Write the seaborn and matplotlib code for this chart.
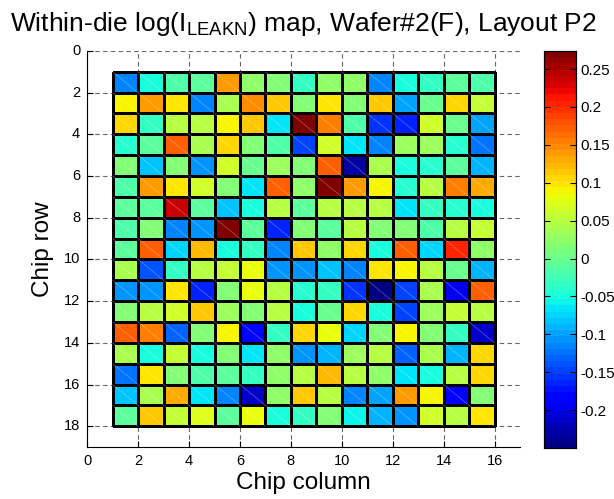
import numpy as np
import pandas as pd
import matplotlib
matplotlib.use("Agg")
import matplotlib.pyplot as plt
from matplotlib.collections import LineCollection
import seaborn as sns

# log(I_LEAKN) deviation per chip, rows 1..17 (top to bottom), columns 1..15
row_01 = [-0.112, -0.053, -0.014, -0.007, 0.137, 0.025, 0.012, -0.034, 0.025, 0.025, -0.112, -0.053, -0.034, -0.007, -0.014]
row_02 = [0.087, 0.137, 0.097, -0.119, 0.038, 0.150, 0.115, 0.018, 0.097, 0.018, 0.117, -0.100, -0.001, 0.104, 0.058]
row_03 = [0.110, -0.034, 0.045, 0.045, 0.087, 0.117, -0.067, 0.274, 0.156, -0.014, -0.158, -0.165, 0.064, -0.001, -0.100]
row_04 = [-0.040, -0.007, 0.169, 0.038, 0.104, 0.018, -0.020, -0.145, 0.068, -0.063, -0.112, 0.031, 0.031, -0.040, -0.125]
row_05 = [0.018, -0.080, 0.018, -0.106, 0.068, -0.001, 0.031, 0.018, 0.175, -0.230, 0.038, -0.053, -0.040, -0.007, -0.093]
row_06 = [-0.014, 0.137, 0.097, 0.068, 0.012, -0.065, 0.175, 0.025, 0.270, 0.137, 0.087, -0.040, 0.051, 0.156, 0.133]
row_07 = [-0.007, -0.007, 0.235, -0.007, -0.080, -0.053, 0.051, -0.007, 0.051, 0.051, 0.051, -0.067, -0.034, -0.040, -0.047]
row_08 = [-0.014, 0.012, -0.112, -0.106, 0.274, -0.007, -0.160, 0.018, -0.007, 0.051, 0.018, 0.018, -0.020, 0.051, 0.058]
row_09 = [-0.007, 0.175, -0.070, 0.124, -0.053, -0.034, -0.112, 0.117, 0.025, 0.104, -0.053, 0.175, -0.073, 0.208, 0.025]
row_10 = [0.038, -0.138, -0.034, 0.051, 0.060, 0.080, -0.103, -0.103, -0.083, -0.112, 0.097, 0.087, 0.051, -0.001, -0.093]
row_11 = [-0.106, -0.103, 0.097, -0.165, 0.012, 0.080, 0.048, -0.040, -0.034, -0.158, -0.250, -0.145, 0.038, -0.200, 0.175]
row_12 = [0.018, 0.051, 0.066, 0.117, 0.031, 0.018, 0.045, -0.053, -0.001, 0.104, -0.053, -0.145, 0.031, 0.058, 0.051]
row_13 = [0.169, 0.153, -0.132, 0.012, 0.091, -0.180, -0.034, 0.104, 0.080, -0.077, 0.018, 0.087, 0.018, -0.034, -0.215]
row_14 = [0.038, -0.047, 0.058, -0.047, 0.012, -0.063, 0.025, -0.106, -0.090, 0.031, 0.051, -0.132, 0.038, -0.087, 0.104]
row_15 = [-0.125, 0.100, 0.018, -0.014, -0.007, -0.034, 0.025, 0.051, 0.124, 0.045, 0.025, -0.067, -0.053, 0.045, 0.110]
row_16 = [-0.080, 0.038, 0.127, -0.063, -0.112, -0.210, 0.025, 0.115, 0.051, -0.112, -0.100, 0.137, 0.087, -0.190, 0.018]
row_17 = [-0.007, 0.115, 0.058, 0.077, -0.007, 0.080, -0.053, -0.034, 0.012, -0.057, -0.087, -0.106, 0.064, 0.045, 0.097]

chip_rows = list(range(1, 18))
chip_cols = list(range(1, 16))
x_ticks = list(range(0, 17, 2))
y_ticks = list(range(0, 19, 2))
cbar_ticks = [-0.2, -0.15, -0.1, -0.05, 0, 0.05, 0.1, 0.15, 0.2, 0.25]
cbar_labels = ["-0.2", "-0.15", "-0.1", "-0.05", "0", "0.05", "0.1", "0.15", "0.2", "0.25"]

values = np.array([row_01, row_02, row_03, row_04, row_05, row_06, row_07, row_08, row_09,
                   row_10, row_11, row_12, row_13, row_14, row_15, row_16, row_17])
frame = pd.DataFrame(values, index=chip_rows, columns=chip_cols)

plt.rcParams['font.family'] = ['Liberation Sans', 'DejaVu Sans']
plt.rcParams['mathtext.fontset'] = 'custom'
plt.rcParams['mathtext.rm'] = 'Liberation Sans'
plt.rcParams['mathtext.it'] = 'Liberation Sans'

fig = plt.figure(figsize=(6.14, 4.99), dpi=100)
ax = fig.add_axes([0.142, 0.104, 0.705, 0.794])
cax = fig.add_axes([0.886, 0.102, 0.052, 0.796])

cmap = plt.get_cmap('jet', 64)
sns.heatmap(frame, ax=ax, cbar_ax=cax, cmap=cmap,
            vmin=values.min(), vmax=values.max(),
            linewidths=0.75, linecolor='black', square=False)

# faint diagonal seam inside every cell (top-left to bottom-right)
nr, nc = values.shape
segs = [[(j, i), (j + 1, i + 1)] for i in range(nr) for j in range(nc)]
ax.add_collection(LineCollection(segs, colors='white', alpha=0.35, linewidths=0.5, zorder=3))

# heatmap cells sit at column-1 / row-1; shift axes so chip index reads directly
off = 1
ax.set_xlim(0 - off, 17 - off)
ax.set_ylim(19 - off, 0 - off)
ax.set_xticks([t - off for t in x_ticks])
ax.set_xticklabels([str(t) for t in x_ticks], rotation=0, fontsize=10.5)
ax.set_yticks([t - off for t in y_ticks])
ax.set_yticklabels([str(t) for t in y_ticks], rotation=0, fontsize=10.5)
ax.tick_params(direction='in', length=4, width=0.8, bottom=True, left=True, colors='black', pad=5)

ax.grid(True, linestyle=(0, (4, 3)), color='0.4', linewidth=0.8)
ax.set_axisbelow(True)
for side in ['left', 'bottom']:
    ax.spines[side].set_visible(True)
    ax.spines[side].set_color('black')
    ax.spines[side].set_linewidth(0.8)
for side in ['top', 'right']:
    ax.spines[side].set_visible(False)

ax.set_xlabel('Chip column', fontsize=17.5, labelpad=3)
ax.set_ylabel('Chip row', fontsize=17.5, labelpad=7)
ax.set_title(r'Within-die log(I$_{\mathregular{LEAKN}}$) map, Wafer#2(F), Layout P2',
             fontsize=19, pad=14)

cax.set_yticks(cbar_ticks)
cax.set_yticklabels(cbar_labels, fontsize=11)
cax.tick_params(direction='in', length=4, width=0.8, left=True, right=True, labelleft=False, labelright=True)
for sp in cax.spines.values():
    sp.set_visible(True)
    sp.set_color('black')
    sp.set_linewidth(0.8)

fig.savefig('out.png', dpi=100)
